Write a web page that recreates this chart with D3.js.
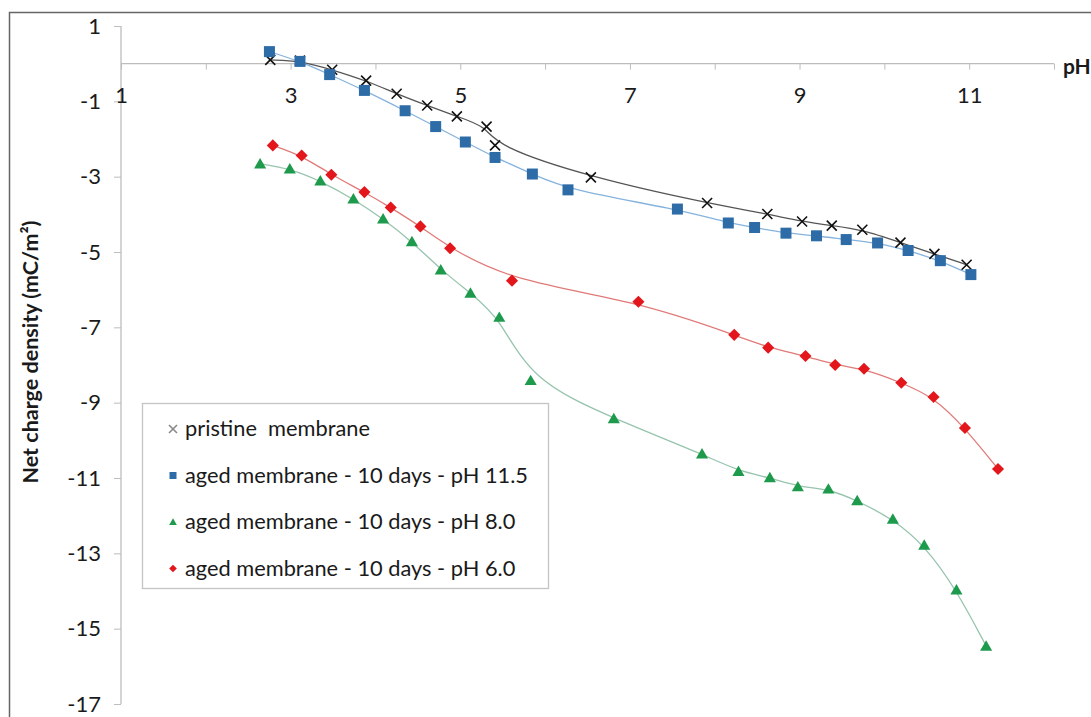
<!DOCTYPE html>
<html>
<head>
<meta charset="utf-8">
<script src="https://d3js.org/d3.v7.min.js"></script>
<style>
  body { margin: 0; background: #fff; }
  svg { display: block; font-family: Lato, "Open Sans", sans-serif; }
  svg .tick text { font-family: Lato, "Open Sans", sans-serif; font-size: 22px; fill: #1a1a1a; }
</style>
</head>
<body>
<svg id="chart" width="1091" height="717"></svg>
<script>
// pH values and net charge density (mC/m2)
var pristinePH  = [2.76, 3.11, 3.49, 3.89, 4.25, 4.61, 4.96, 5.31, 5.41, 6.54, 7.91, 8.62, 9.03, 9.38, 9.74, 10.19, 10.59, 10.97];
var pristineQ   = [0.10, 0.08, -0.16, -0.45, -0.80, -1.11, -1.40, -1.67, -2.17, -3.02, -3.70, -3.99, -4.19, -4.30, -4.41, -4.75, -5.05, -5.34];

var aged115PH   = [2.75, 3.11, 3.46, 3.87, 4.35, 4.71, 5.06, 5.41, 5.85, 6.27, 7.56, 8.16, 8.47, 8.84, 9.20, 9.55, 9.92, 10.28, 10.66, 11.02];
var aged115Q    = [0.32, 0.06, -0.29, -0.71, -1.25, -1.67, -2.08, -2.49, -2.93, -3.35, -3.86, -4.23, -4.35, -4.50, -4.57, -4.67, -4.76, -4.96, -5.23, -5.60];

var aged80PH    = [2.64, 2.99, 3.35, 3.74, 4.09, 4.43, 4.77, 5.12, 5.46, 5.83, 6.81, 7.85, 8.28, 8.65, 8.98, 9.34, 9.68, 10.10, 10.47, 10.85, 11.20];
var aged80Q     = [-2.66, -2.79, -3.11, -3.59, -4.12, -4.72, -5.47, -6.09, -6.73, -8.41, -9.42, -10.36, -10.82, -10.99, -11.23, -11.29, -11.60, -12.09, -12.78, -13.97, -15.46];

var aged60PH    = [2.79, 3.13, 3.48, 3.87, 4.18, 4.53, 4.88, 5.61, 7.10, 8.23, 8.63, 9.07, 9.42, 9.76, 10.20, 10.58, 10.95, 11.34];
var aged60Q     = [-2.17, -2.44, -2.95, -3.41, -3.82, -4.32, -4.90, -5.76, -6.32, -7.20, -7.54, -7.76, -8.00, -8.10, -8.47, -8.85, -9.67, -10.76];

var xTicks = [1, 2, 3, 4, 5, 6, 7, 8, 9, 10, 11, 12];
var xLabels = [1, 3, 5, 7, 9, 11];
var yTicks = [1, -1, -3, -5, -7, -9, -11, -13, -15, -17];

var seriesNames = ["pristine  membrane", "aged membrane - 10 days - pH 11.5",
                   "aged membrane - 10 days - pH 8.0", "aged membrane - 10 days - pH 6.0"];

var series = [
  { name: seriesNames[0], ph: pristinePH, q: pristineQ, marker: "cross",    color: "#111",    line: "#555" },
  { name: seriesNames[1], ph: aged115PH,  q: aged115Q,  marker: "square",   color: "#2e6ca8", line: "#86b3dd" },
  { name: seriesNames[2], ph: aged80PH,   q: aged80Q,   marker: "triangle", color: "#1e9a4c", line: "#96c4ad" },
  { name: seriesNames[3], ph: aged60PH,   q: aged60Q,   marker: "diamond",  color: "#e3161c", line: "#e07a78" }
];

var svg = d3.select("#chart");

var x = d3.scaleLinear().domain([1, 12]).range([121, 1054]);
var y = d3.scaleLinear().domain([-17, 1]).range([704, 26]);

// outer frame (cut off on the right and bottom like the source)
svg.append("path")
    .attr("d", "M9.5,717 V12.5 H1091")
    .attr("fill", "none").attr("stroke", "#666").attr("stroke-width", 1.5);

// y axis
var yAxis = svg.append("g")
    .attr("transform", "translate(" + x(1) + ",0)")
    .call(d3.axisLeft(y).tickValues(yTicks).tickSize(7).tickPadding(13).tickFormat(d3.format("d")));
yAxis.attr("font-family", null).attr("font-size", null);
yAxis.select(".domain").attr("stroke", "#bdbdbd").attr("stroke-width", 1.3)
    .attr("d", "M0," + y(1) + "V" + y(-17));
yAxis.selectAll(".tick line").attr("stroke", "#bdbdbd");
yAxis.selectAll(".tick text").text(function(d) { return d < 0 ? "-" + Math.abs(d) : d; });

// x axis at zero
var xAxis = svg.append("g")
    .attr("transform", "translate(0," + y(0) + ")")
    .call(d3.axisBottom(x).tickValues(xTicks).tickSize(6).tickPadding(18)
      .tickFormat(function(d) { return xLabels.indexOf(d) >= 0 ? d : ""; }));
xAxis.attr("font-family", null).attr("font-size", null);
xAxis.select(".domain").attr("stroke", "#bdbdbd").attr("stroke-width", 1.3)
    .attr("d", "M" + x(1) + ",0H" + x(12));
xAxis.selectAll(".tick line").attr("stroke", "#bdbdbd");

svg.append("text")
    .attr("x", 1063).attr("y", 74)
    .attr("font-size", 21).attr("font-weight", "bold").attr("fill", "#1a1a1a")
    .text("pH");

svg.append("text")
    .attr("transform", "translate(38," + 352 + ") rotate(-90)")
    .attr("text-anchor", "middle")
    .attr("font-size", 21.5).attr("font-weight", "bold").attr("fill", "#1a1a1a")
    .text("Net charge density (mC/m²)");

// smoothed trend curves
var line = d3.line()
    .x(function(d) { return x(d[0]); })
    .y(function(d) { return y(d[1]); })
    .curve(d3.curveBasis);

series.forEach(function(s) {
  var pts = s.ph.map(function(p, i) { return [p, s.q[i]]; });
  svg.append("path")
      .datum(pts)
      .attr("fill", "none")
      .attr("stroke", s.line)
      .attr("stroke-width", 1.3)
      .attr("d", line);
});

function drawMarker(g, type, color, size) {
  var h = size / 2;
  if (type === "cross") {
    g.append("path")
      .attr("d", "M" + (-h) + "," + (-h) + "L" + h + "," + h + "M" + (-h) + "," + h + "L" + h + "," + (-h))
      .attr("stroke", color).attr("stroke-width", 1.6).attr("fill", "none");
  } else if (type === "square") {
    g.append("rect").attr("x", -h).attr("y", -h).attr("width", size).attr("height", size).attr("fill", color);
  } else if (type === "triangle") {
    g.append("path").attr("d", "M0," + (-h * 1.05) + "L" + (h * 1.1) + "," + (h * 0.85) + "L" + (-h * 1.1) + "," + (h * 0.85) + "Z")
      .attr("fill", color);
  } else {
    g.append("path").attr("d", "M0," + (-h * 1.1) + "L" + (h * 1.1) + ",0L0," + (h * 1.1) + "L" + (-h * 1.1) + ",0Z")
      .attr("fill", color);
  }
}

series.forEach(function(s) {
  var sz = s.marker === "cross" ? 10 : 11;
  s.ph.forEach(function(p, i) {
    var g = svg.append("g").attr("transform", "translate(" + x(p) + "," + y(s.q[i]) + ")");
    drawMarker(g, s.marker, s.color, sz);
  });
});

// legend
var legend = svg.append("g");
legend.append("rect")
    .attr("x", 142.5).attr("y", 403.5).attr("width", 406).attr("height", 185)
    .attr("fill", "#fff").attr("stroke", "#c4c4c4").attr("stroke-width", 1.3);

series.forEach(function(s, i) {
  var cy = 429 + i * 46.5;
  var g = legend.append("g").attr("transform", "translate(173," + cy + ")");
  drawMarker(g, s.marker, i === 0 ? "#888" : s.color, i === 0 ? 8 : 7);
  legend.append("text")
      .attr("x", 185).attr("y", cy + 7)
      .attr("font-size", 21.8).attr("fill", "#1a1a1a")
      .text(s.name)
      .style("white-space", "pre");
});
</script>
</body>
</html>
